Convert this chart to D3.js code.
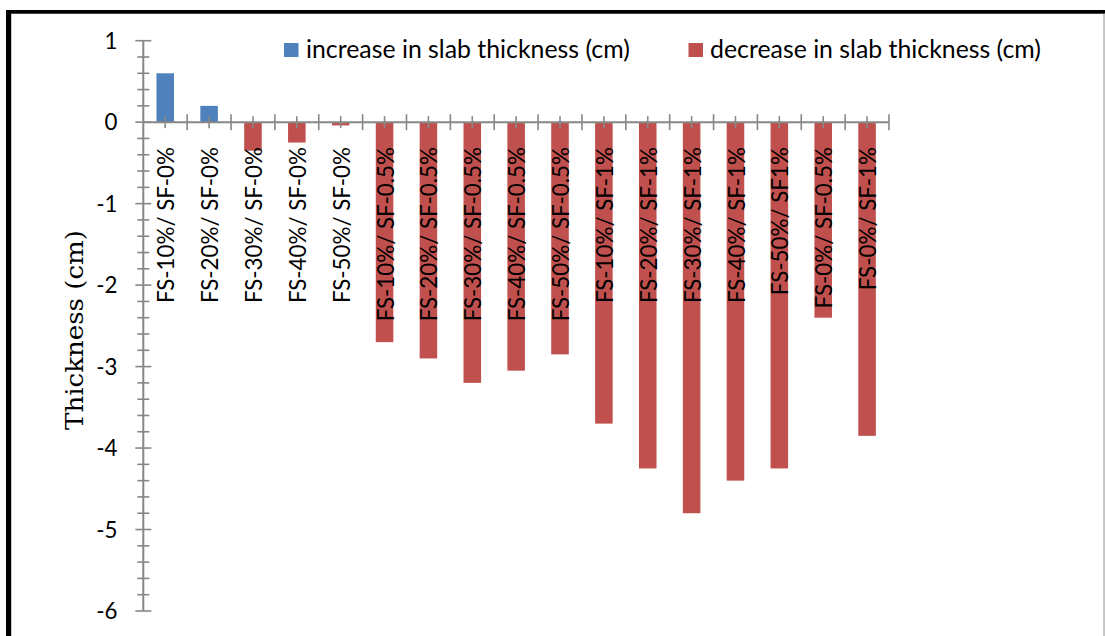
<!DOCTYPE html>
<html>
<head>
<meta charset="utf-8">
<script src="https://cdn.jsdelivr.net/npm/d3@7"></script>
<style>
  html, body { margin: 0; padding: 0; background: #fff; }
  svg { display: block; }
</style>
</head>
<body>
<svg id="chart" width="1105" height="636"></svg>
<script>
// ---------- DATA ----------
const categories = [
  "FS-10%/ SF-0%", "FS-20%/ SF-0%", "FS-30%/ SF-0%", "FS-40%/ SF-0%", "FS-50%/ SF-0%",
  "FS-10%/ SF-0.5%", "FS-20%/ SF-0.5%", "FS-30%/ SF-0.5%", "FS-40%/ SF-0.5%", "FS-50%/ SF-0.5%",
  "FS-10%/ SF-1%", "FS-20%/ SF-1%", "FS-30%/ SF-1%", "FS-40%/ SF-1%", "FS-50%/ SF1%",
  "FS-0%/ SF-0.5%", "FS-0%/ SF-1%"
];
const increaseValues = [0.6, 0.2, null, null, null, null, null, null, null, null, null, null, null, null, null, null, null];
const decreaseValues = [null, null, -0.35, -0.25, -0.04, -2.7, -2.9, -3.2, -3.05, -2.85, -3.7, -4.25, -4.8, -4.4, -4.25, -2.4, -3.85];
const seriesNames = ["increase in slab thickness (cm)", "decrease in slab thickness (cm)"];
const yTickValues = [1, 0, -1, -2, -3, -4, -5, -6];
const yTitle = "Thickness (cm)";

// ---------- STYLE ----------
const colors = ["#4F81BD", "#C0504D"];
const axisColor = "#878787";
const sansFont = "Lato, 'Noto Sans', sans-serif";
const serifFont = "'DejaVu Serif', 'Liberation Serif', serif";

const svg = d3.select("#chart");

// frame
svg.append("rect").attr("x", 11).attr("y", 13.5).attr("width", 1093).attr("height", 640)
  .attr("fill", "#fff").attr("stroke", "#8c8c8c").attr("stroke-width", 1);
svg.append("rect").attr("x", 6).attr("y", 10).attr("width", 1099).attr("height", 3.5).attr("fill", "#000");
svg.append("rect").attr("x", 6).attr("y", 10).attr("width", 5).attr("height", 640).attr("fill", "#000");

// scales
const x0 = 143.3, x1 = 889;
const y = d3.scaleLinear().domain([-6, 1]).range([611, 40.7]);
const xb = d3.scaleBand().domain(categories).range([x0, x1]).padding(0);
const xBar = d3.scaleBand().domain(categories).range([x0, x1]).paddingInner(0.6).paddingOuter(0.3);

// bars
const series = [increaseValues, decreaseValues];
series.forEach((vals, si) => {
  svg.append("g").selectAll("rect")
    .data(categories.map((c, i) => ({ c, v: vals[i] })).filter(d => d.v !== null))
    .join("rect")
    .attr("x", d => xBar(d.c))
    .attr("width", xBar.bandwidth())
    .attr("y", d => y(Math.max(0, d.v)))
    .attr("height", d => Math.abs(y(d.v) - y(0)))
    .attr("fill", colors[si]);
});

// y axis
const yAxisG = svg.append("g");
yAxisG.append("line").attr("x1", x0).attr("x2", x0).attr("y1", y(1)).attr("y2", y(-6))
  .attr("stroke", axisColor).attr("stroke-width", 2);
const minorY = d3.range(-30, 6).map(k => k / 5).filter(v => Math.abs(v - Math.round(v)) > 1e-6);
yAxisG.selectAll("line.minor").data(minorY).join("line").attr("class", "minor")
  .attr("x1", x0 - 6).attr("x2", x0 + 6).attr("y1", d => y(d)).attr("y2", d => y(d))
  .attr("stroke", axisColor).attr("stroke-width", 1.6);
yAxisG.selectAll("line.major").data(yTickValues).join("line").attr("class", "major")
  .attr("x1", x0 - 8).attr("x2", x0 + 8).attr("y1", d => y(d)).attr("y2", d => y(d))
  .attr("stroke", axisColor).attr("stroke-width", 1.6);

// x axis at zero
const xAxisG = svg.append("g");
xAxisG.append("line").attr("x1", x0).attr("x2", x1).attr("y1", y(0)).attr("y2", y(0))
  .attr("stroke", axisColor).attr("stroke-width", 2);
const boundaries = categories.map(c => xb(c)).concat([x1]).slice(1);
xAxisG.selectAll("line.bnd").data(boundaries).join("line").attr("class", "bnd")
  .attr("x1", d => d).attr("x2", d => d).attr("y1", y(0) - 8).attr("y2", y(0) + 8)
  .attr("stroke", axisColor).attr("stroke-width", 1.6);
xAxisG.selectAll("line.ctr").data(categories).join("line").attr("class", "ctr")
  .attr("x1", d => xb(d) + xb.bandwidth() / 2).attr("x2", d => xb(d) + xb.bandwidth() / 2)
  .attr("y1", y(0) - 6).attr("y2", y(0) + 6)
  .attr("stroke", axisColor).attr("stroke-width", 1.6);

// measure helper: font size that makes text span the target width
function fitSize(text, family, target) {
  const t = svg.append("text").attr("font-family", family).attr("font-size", 20).text(text);
  const w = t.node().getComputedTextLength();
  t.remove();
  return 20 * target / w;
}
const labelSize = fitSize(categories[0], sansFont, 156);

// y tick labels
svg.append("g").selectAll("text").data(yTickValues).join("text")
  .attr("x", 117.5).attr("y", d => y(d)).attr("dy", "0.36em")
  .attr("text-anchor", "end").attr("font-family", sansFont).attr("font-size", labelSize)
  .attr("fill", "#000").text(d => d);

// category labels
svg.append("g").selectAll("text").data(categories).join("text")
  .attr("transform", d => `translate(${xb(d) + xb.bandwidth() / 2 + 1},${y(0) + 25}) rotate(-90)`)
  .attr("dy", "0.36em").attr("text-anchor", "end")
  .attr("font-family", sansFont).attr("font-size", labelSize).attr("fill", "#000")
  .text(d => d);

// y title
svg.append("text")
  .attr("transform", "translate(75,330) rotate(-90)")
  .attr("text-anchor", "middle").attr("dy", "0.32em")
  .attr("font-family", serifFont).attr("font-size", 23.5).attr("fill", "#000")
  .attr("textLength", 200).attr("lengthAdjust", "spacingAndGlyphs")
  .text(yTitle);

// legend
const legendSize = fitSize(seriesNames[0], sansFont, 324);
const legendItems = [
  { name: seriesNames[0], color: colors[0], sx: 284, tx: 306 },
  { name: seriesNames[1], color: colors[1], sx: 688.5, tx: 710 }
];
const lg = svg.append("g");
legendItems.forEach(it => {
  lg.append("rect").attr("x", it.sx).attr("y", 43).attr("width", 14.5).attr("height", 14)
    .attr("fill", it.color);
  lg.append("text").attr("x", it.tx).attr("y", 57.5)
    .attr("font-family", sansFont).attr("font-size", legendSize).attr("fill", "#000")
    .text(it.name);
});
</script>
</body>
</html>
